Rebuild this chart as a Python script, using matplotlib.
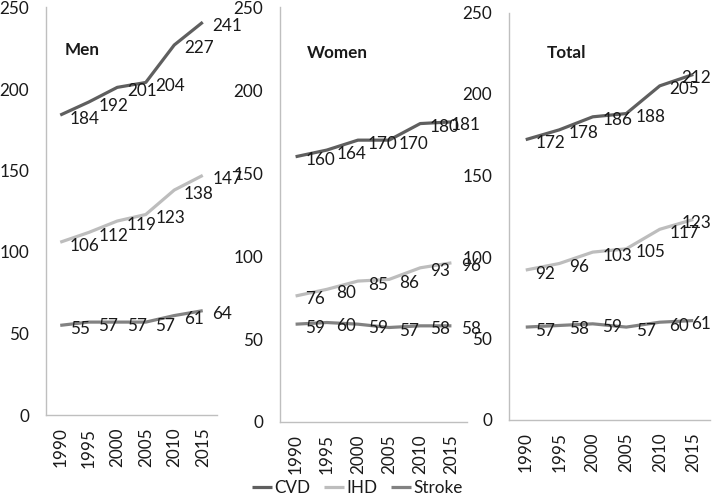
import matplotlib
matplotlib.use('Agg')
import matplotlib.pyplot as plt

plt.rcParams['font.family'] = ['Lato', 'DejaVu Sans']

years = ['1990', '1995', '2000', '2005', '2010', '2015']
series_names = ['CVD', 'IHD', 'Stroke']
panel_titles = ['Men', 'Women', 'Total']

men_cvd = [184, 192, 201, 204, 227, 241]
men_ihd = [106, 112, 119, 123, 138, 147]
men_stroke = [55, 57, 57, 57, 61, 64]

women_cvd = [160, 164, 170, 170, 180, 181]
women_ihd = [76, 80, 85, 86, 93, 96]
women_stroke = [59, 60, 59, 57, 58, 58]

total_cvd = [172, 178, 186, 188, 205, 212]
total_ihd = [92, 96, 103, 105, 117, 123]
total_stroke = [57, 58, 59, 57, 60, 61]

panel_data = [
    [men_cvd, men_ihd, men_stroke],
    [women_cvd, women_ihd, women_stroke],
    [total_cvd, total_ihd, total_stroke],
]

colors = ['#5f5f5f', '#bdbdbd', '#828282']

W, H = 714, 496
fig = plt.figure(figsize=(W / 100, H / 100), dpi=100)

# axes rectangles in pixels: left, zero-line y (from top), width, height
rects = [(46, 415, 171, 407.5), (280, 422, 187, 414.5), (509, 420, 201, 407.5)]
title_pos = [(0.11, 0.896), (0.145, 0.891), (0.19, 0.90)]
right_limits = [250, 481, 711]

FS = 12.3
axes = []
texts = []
for k, (l, zy, w, h) in enumerate(rects):
    ax = fig.add_axes([l / W, (H - zy) / H, w / W, h / H])
    axes.append(ax)
    x = list(range(len(years)))
    for s, vals in enumerate(panel_data[k]):
        ax.plot(x, vals, color=colors[s], lw=2.3, solid_capstyle='butt',
                label=series_names[s], clip_on=False)
        for xi, v in zip(x, vals):
            t = ax.annotate(str(v), (xi, v), xytext=(7, -2.5), textcoords='offset points',
                            ha='left', va='center', fontsize=FS, color='#1a1a1a',
                            annotation_clip=False)
            texts.append((k, t))
    ax.set_xlim(-0.5, len(years) - 0.5)
    ax.set_ylim(0, 250)
    ax.set_yticks([0, 50, 100, 150, 200, 250])
    ax.set_xticks(x)
    ax.set_xticklabels(years, rotation=90)
    ax.tick_params(axis='both', length=0, labelsize=FS, labelcolor='#1a1a1a')
    ax.tick_params(axis='y', pad=12)
    ax.tick_params(axis='x', pad=9)
    for sp in ['top', 'right']:
        ax.spines[sp].set_visible(False)
    for sp in ['left', 'bottom']:
        ax.spines[sp].set_color('#bfbfbf')
        ax.spines[sp].set_linewidth(1.0)
    ax.patch.set_alpha(0)
    ax.text(title_pos[k][0], title_pos[k][1], panel_titles[k], transform=ax.transAxes,
            ha='left', va='center', fontsize=FS, fontweight='bold', color='#1a1a1a')

fig.canvas.draw()
r = fig.canvas.get_renderer()
for k, t in texts:
    bb = t.get_window_extent(r)
    lim = right_limits[k]
    if bb.x1 > lim:
        shift_px = bb.x1 - lim
        dx, dy = t.xyann
        t.xyann = (dx - shift_px * 72 / 100, dy)

handles, labels = axes[0].get_legend_handles_labels()
fig.legend(handles, labels, loc='center', bbox_to_anchor=(0.5, 8 / H), ncol=3,
           frameon=False, fontsize=FS, handlelength=1.2, handletextpad=0.1,
           columnspacing=0.8, labelcolor='#1a1a1a')

fig.savefig('out.png', dpi=100)
